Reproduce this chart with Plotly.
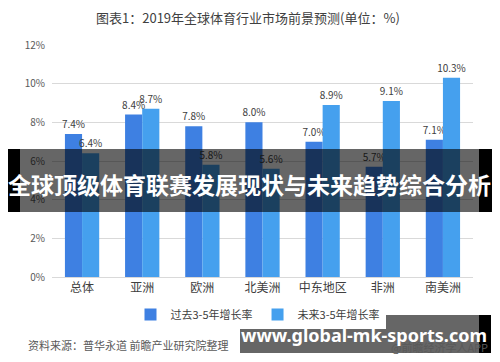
import plotly.graph_objects as go

categories = ["总体", "亚洲", "欧洲", "北美洲", "中东地区", "非洲", "南美洲"]
past_growth = [7.4, 8.4, 7.8, 8.0, 7.0, 5.7, 7.1]
future_growth = [6.4, 8.7, 5.8, 5.6, 8.9, 9.1, 10.3]
series_names = ["过去3-5年增长率", "未来3-5年增长率"]
tick_vals = [0, 2, 4, 6, 8, 10, 12]
tick_text = ["0%", "2%", "4%", "6%", "8%", "10%", "12%"]

W, H = 500, 362
L, R, T, B = 52, 27, 45, 85
pw, ph = W - L - R, H - T - B

def px(x):
    return (x - L) / pw

def py(y):
    return (H - B - y) / ph

font = "Noto Sans CJK SC"
fig = go.Figure()
fig.add_trace(go.Bar(x=categories, y=past_growth, name=series_names[0],
                     marker=dict(color="#3e80e2", line=dict(width=0)),
                     text=[f"{v:.1f}%" for v in past_growth], textposition="outside",
                     constraintext="none",
                     textfont=dict(size=10, color="#404040", family=font), cliponaxis=False))
fig.add_trace(go.Bar(x=categories, y=future_growth, name=series_names[1],
                     marker=dict(color="#45a0ee", line=dict(width=0)),
                     text=[f"{v:.1f}%" for v in future_growth], textposition="outside",
                     constraintext="none",
                     textfont=dict(size=10, color="#404040", family=font), cliponaxis=False))

shapes = [
    dict(type="rect", xref="paper", yref="paper", x0=px(20), x1=px(479), y0=py(212), y1=py(149),
         fillcolor="rgba(0,0,0,0.6)", line=dict(width=0), layer="above"),
    dict(type="rect", xref="paper", yref="paper", x0=px(8), x1=px(20), y0=py(212), y1=py(149),
         fillcolor="black", line=dict(width=0), layer="above"),
    dict(type="rect", xref="paper", yref="paper", x0=px(479), x1=px(492), y0=py(212), y1=py(149),
         fillcolor="black", line=dict(width=0), layer="above"),
    dict(type="rect", xref="paper", yref="paper", x0=px(240), x1=px(479), y0=py(353), y1=py(315),
         fillcolor="rgba(0,0,0,0.6)", line=dict(width=0), layer="above"),
    dict(type="rect", xref="paper", yref="paper", x0=px(479), x1=px(491), y0=py(353), y1=py(315),
         fillcolor="black", line=dict(width=0), layer="above"),
]

annotations = [
    dict(text="图表1：2019年全球体育行业市场前景预测(单位：%)", xref="paper", yref="paper",
         x=px(248), y=py(17), xanchor="center", yanchor="middle", showarrow=False,
         font=dict(size=13, color="#404040", family=font)),
    dict(text="资料来源：普华永道 前瞻产业研究院整理", xref="paper", yref="paper",
         x=px(26), y=py(345), xanchor="left", yanchor="middle", showarrow=False,
         font=dict(size=11, color="#595959", family=font)),
    dict(text="@前瞻经济学人APP", xref="paper", yref="paper",
         x=px(490), y=py(347), xanchor="right", yanchor="middle", showarrow=False,
         font=dict(size=11, color="#595959", family=font)),
    dict(text="<b>全球顶级体育联赛发展现状与未来趋势综合分析</b>", xref="paper", yref="paper",
         x=px(249), y=py(184), xanchor="center", yanchor="middle", showarrow=False,
         font=dict(size=23, color="white", family=font)),
    dict(text="<b>www.global-mk-sports.com</b>", xref="paper", yref="paper",
         x=px(364), y=py(335), xanchor="center", yanchor="middle", showarrow=False,
         font=dict(size=18, color="white", family="Noto Sans")),
]

fig.update_layout(
    width=W, height=H, margin=dict(l=L, r=R, t=T, b=B, autoexpand=False),
    paper_bgcolor="white", plot_bgcolor="white",
    barmode="group", bargap=0.43, bargroupgap=0,
    showlegend=True,
    legend=dict(orientation="h", x=px(258), y=py(300), xanchor="center", yanchor="top",
                font=dict(size=11, color="#404040", family=font),
                traceorder="normal", itemwidth=30),
    xaxis=dict(showline=True, linecolor="#d9d9d9", linewidth=1, ticks="",
               tickfont=dict(size=12, color="#404040", family=font), fixedrange=True),
    yaxis=dict(range=[0, 12], tickvals=tick_vals, ticktext=tick_text,
               showgrid=True, gridcolor="#d9d9d9", gridwidth=1, zeroline=False,
               tickfont=dict(size=10, color="#595959", family=font), ticklabelstandoff=6),
    shapes=shapes, annotations=annotations,
)
fig.write_html("out.html", config={"displayModeBar": False},
               post_script="document.body.style.margin='0';")
